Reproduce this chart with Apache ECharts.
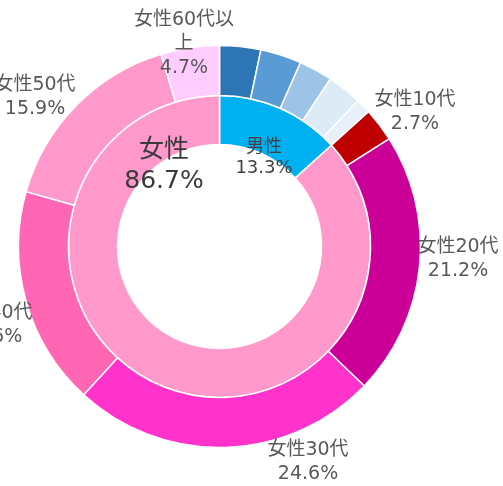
<!DOCTYPE html>
<html>
<head>
<meta charset="utf-8">
<script src="https://cdn.jsdelivr.net/npm/echarts@6/dist/echarts.min.js"></script>
<style>
  html, body { margin: 0; padding: 0; background: #fff; }
  #chart { width: 503px; height: 486px; }
</style>
</head>
<body>
<div id="chart"></div>
<script>
// 内側：性別
const genderNames = ['男性', '女性'];
const genderValues = [13.3, 86.7];

// 外側：性別・年代
const ageNames = ['男性20代', '男性30代', '男性40代', '男性50代', '男性60代以上',
  '女性10代', '女性20代', '女性30代', '女性40代', '女性50代', '女性60代以上'];
const ageValues = [3.3, 3.3, 2.7, 2.8, 1.2, 2.7, 21.2, 24.6, 17.6, 15.9, 4.7];

const genderColors = ['#00B0F0', '#FF99CC'];
const ageColors = ['#2E75B6', '#5B9BD5', '#9DC3E6', '#DDEBF7', '#E8F0F9',
  '#C00000', '#CC0099', '#FF33CC', '#FF66B3', '#FF99CC', '#FFCCFF'];

// ラベル位置（元の図に合わせて手動配置）
const genderLabelPos = [[264, 158], [164, 166]];
const ageLabelPos = [null, null, null, null, null,
  [415, 112], [458, 259], [308, 462], [-8, 325], [35, 97], [184, 44]];

const FONT = '"DejaVu Sans", "Noto Sans CJK JP", sans-serif';

const chart = echarts.init(document.getElementById('chart'), null, { renderer: 'canvas' });

const option = {
  backgroundColor: '#fff',
  animation: false,
  series: [
    {
      name: '性別',
      type: 'pie',
      center: [219.5, 246.5],
      radius: [102, 151],
      startAngle: 90,
      avoidLabelOverlap: false,
      itemStyle: { borderColor: '#fff', borderWidth: 1.5 },
      label: {
        show: true,
        position: 'inside',
        formatter: '{b}\n{c}%',
        fontFamily: FONT,
        color: '#404040',
        fontSize: 18,
        lineHeight: 21,
        align: 'center'
      },
      labelLine: { show: false },
      labelLayout: function (params) {
        const p = genderLabelPos[params.dataIndex];
        return { x: p[0], y: p[1], align: 'center', verticalAlign: 'middle' };
      },
      data: genderNames.map((name, i) => ({
        name,
        value: genderValues[i],
        itemStyle: { color: genderColors[i] },
        label: i === 1 ? { fontSize: 25, lineHeight: 31, color: '#3a3a3a' } : {}
      }))
    },
    {
      name: '年代',
      type: 'pie',
      center: [219.5, 246.5],
      radius: [151, 201],
      startAngle: 90,
      avoidLabelOverlap: false,
      itemStyle: { borderColor: '#fff', borderWidth: 1.5 },
      label: {
        show: true,
        position: 'outside',
        formatter: '{b}\n{c}%',
        fontFamily: FONT,
        color: '#595959',
        fontSize: 19,
        lineHeight: 24,
        width: 104,
        overflow: 'break',
        align: 'center'
      },
      labelLine: { show: false },
      labelLayout: function (params) {
        const p = ageLabelPos[params.dataIndex];
        if (!p) return {};
        return { x: p[0], y: p[1], align: 'center', verticalAlign: 'middle' };
      },
      data: ageNames.map((name, i) => ({
        name,
        value: ageValues[i],
        itemStyle: { color: ageColors[i] },
        label: { show: ageLabelPos[i] !== null }
      }))
    }
  ]
};

chart.setOption(option);
</script>
</body>
</html>
